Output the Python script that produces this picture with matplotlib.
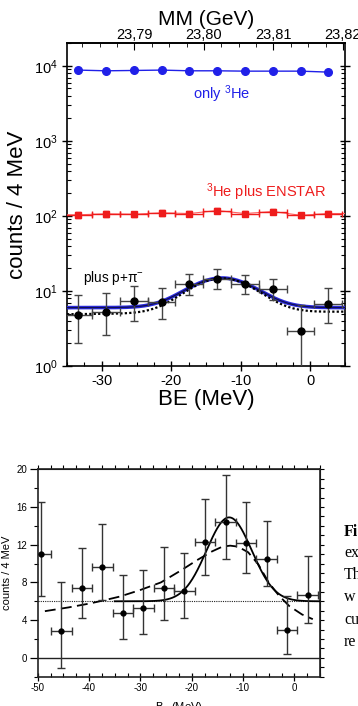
import numpy as np
import matplotlib
matplotlib.use("Agg")
import matplotlib.pyplot as plt
from matplotlib.ticker import MultipleLocator, FixedLocator, FuncFormatter, LogLocator, NullFormatter

plt.rcParams['font.family'] = ['Liberation Sans', 'DejaVu Sans']
plt.rcParams['mathtext.fontset'] = 'custom'
plt.rcParams['mathtext.rm'] = 'Liberation Sans'
plt.rcParams['mathtext.it'] = 'Liberation Sans:italic'
plt.rcParams['axes.unicode_minus'] = False

# ---------------- data ----------------
be_bins = [-49.4, -45.4, -41.4, -37.4, -33.4, -29.4, -25.4, -21.4, -17.4, -13.4, -9.4, -5.4, -1.4, 2.6]
counts = [11.0, 2.9, 7.4, 9.6, 4.8, 5.3, 7.4, 7.1, 12.3, 14.4, 12.2, 10.5, 2.95, 6.7]
count_hi = [16.5, 8.0, 11.6, 14.2, 8.8, 9.3, 11.8, 11.1, 16.9, 19.4, 16.5, 14.5, 6.6, 10.8]
count_lo = [6.6, -1.1, 4.2, 6.1, 2.05, 2.55, 4.0, 4.2, 8.8, 10.5, 9.0, 7.65, 0.42, 3.7]
bin_half = 2.0

he3_only = [8790, 8600, 8690, 8790, 8600, 8600, 8510, 8510, 8510, 8260]
he3_enstar = [103.5, 106.7, 105.4, 110.0, 107.7, 118.0, 107.7, 114.5, 102.0, 107.7]
he3_enstar_err = [9, 9, 9, 9, 9, 9, 9, 9, 9, 9]

# fit parameters (Gaussian + background)
g_center = -12.7
g_sigma = 4.4
g_amp = 8.9
g_bkg = 6.0
dot_amp = 9.6
dot_bkg_left = 4.9
dot_bkg_right = 5.3

# dashed model curve in lower panel
dash_x = [-48.6, -44, -40, -37.5, -34, -30, -26, -22, -19, -16, -14, -12.5, -11, -9, -7, -5, -3, -1, 1.5, 3.6]
dash_y = [4.95, 5.35, 5.75, 6.05, 6.5, 7.2, 8.0, 9.3, 10.35, 11.3, 11.8, 11.9, 11.8, 11.2, 9.9, 8.0, 6.6, 5.5, 4.6, 4.1]

top_xticks = [-30, -20, -10, 0]
mm_ticks = [23.79, 23.80, 23.81, 23.82]
low_xticks = [-50, -40, -30, -20, -10, 0]
low_yticks = [0, 4, 8, 12, 16, 20]

# ---------------- figure ----------------
W, H = 358, 706
fig = plt.figure(figsize=(W / 100, H / 100), dpi=100)

def frac(l, t, r, b):
    return [l / W, 1 - b / H, (r - l) / W, (b - t) / H]

# ===== top panel =====
ax = fig.add_axes(frac(67, 43.3, 345, 366))
ax.set_yscale('log')
ax.set_xlim(-35, 5)
ax.set_ylim(1, 2e4)

xb = np.array(be_bins[4:])
c = np.array(counts[4:])
hi = np.array(count_hi[4:])
lo = np.array(count_lo[4:])
lo_plot = np.where(lo > 0, lo, 0.5)

# curves
xx = np.linspace(-35, 5, 400)
gauss = np.exp(-(xx - g_center) ** 2 / (2 * g_sigma ** 2))
ax.plot(xx, g_bkg + g_amp * gauss, color='#2a2ae0', lw=2.6, zorder=3)
ax.plot(xx, g_bkg + g_amp * gauss, color='#101050', lw=0.9, zorder=3.1)
bk = dot_bkg_left + (dot_bkg_right - dot_bkg_left) * (xx - xx[0]) / (xx[-1] - xx[0])
ax.plot(xx, bk + dot_amp * gauss, color='black', lw=1.6, ls=(0, (1, 1)), zorder=3.2)

# blue: only 3He
ax.plot(xb, he3_only, color='#2020e8', lw=1.0, marker='o', ms=5.5, zorder=4)

# red: 3He + ENSTAR
ax.plot([-35] + list(xb) + [5], [he3_enstar[0]] + he3_enstar + [he3_enstar[-1]],
        color='#ff6060', lw=0.8, zorder=3)
ax.errorbar(xb, he3_enstar, yerr=he3_enstar_err, xerr=bin_half, fmt='s', color='#ee1c1c',
            ms=5, elinewidth=1.0, capsize=2.5, capthick=1.0, zorder=4)

# black: plus p + pi-
ax.errorbar(xb, c, yerr=[c - lo_plot, hi - c], xerr=bin_half, fmt='o', color='black',
            ecolor='#444444', ms=5, elinewidth=1.0, capsize=3, capthick=1.0, zorder=5)

ax.text(0.555, 0.842, 'only $^{3}$He', color='#2020e8', fontsize=10.5, ha='center', va='center',
        transform=ax.transAxes)
ax.text(0.716, 0.538, '$^{3}$He plus ENSTAR', color='#ee1c1c', fontsize=10.5, ha='center', va='center',
        transform=ax.transAxes)
ax.text(0.058, 0.272, 'plus p+π$^{-}$', color='black', fontsize=9.8, ha='left', va='center',
        transform=ax.transAxes)

ax.xaxis.set_major_locator(FixedLocator(top_xticks))
ax.xaxis.set_minor_locator(MultipleLocator(2.5))
ax.yaxis.set_major_locator(LogLocator(base=10, numticks=10))
ax.yaxis.set_minor_locator(LogLocator(base=10, subs=np.arange(2, 10), numticks=20))
ax.yaxis.set_minor_formatter(NullFormatter())
ax.tick_params(which='major', direction='inout', length=7, width=1.0, labelsize=10.5, right=True, top=False)
ax.tick_params(which='minor', direction='in', length=3, width=0.8, right=True, top=False)
ax.tick_params(axis='x', pad=2)
for s in ax.spines.values():
    s.set_linewidth(1.2)
ax.set_xlabel('BE (MeV)', fontsize=16, labelpad=1)
ax.set_ylabel('counts / 4 MeV', fontsize=16, labelpad=4)

def be2mm(b):
    return 23.80 + (np.asarray(b) + 15.3) / 1000.0

def mm2be(m):
    return (np.asarray(m) - 23.80) * 1000.0 - 15.3

sec = ax.secondary_xaxis('top', functions=(be2mm, mm2be))
sec.xaxis.set_major_locator(FixedLocator(mm_ticks))
sec.xaxis.set_minor_locator(MultipleLocator(0.0025))
sec.xaxis.set_major_formatter(FuncFormatter(lambda v, p: f"{v:.2f}".replace('.', ',')))
sec.tick_params(which='major', direction='in', length=5, labelsize=10.5, pad=1)
sec.tick_params(which='minor', direction='in', length=3)
sec.spines['top'].set_linewidth(1.2)
sec.set_xlabel('MM (GeV)', fontsize=15, labelpad=2)

# ===== bottom panel =====
bx = fig.add_axes(frac(37.7, 469.3, 320, 676.7))
bx.set_xlim(-50, 5)
bx.set_ylim(-2, 20)

cb = np.array(counts)
hb = np.array(count_hi)
lb = np.array(count_lo)

bx.axhline(0, color='#222222', lw=1.0, zorder=2)
bx.axhline(g_bkg, color='#222222', lw=0.8, ls=(0, (1, 1)), zorder=2)
xs = np.linspace(-35, 5, 400)
bx.plot(xs, g_bkg + g_amp * np.exp(-(xs - g_center) ** 2 / (2 * g_sigma ** 2)),
        color='black', lw=1.3, zorder=3)
bx.plot(dash_x, dash_y, color='black', lw=1.3, ls=(0, (6, 3)), zorder=3)
bx.errorbar(be_bins, cb, yerr=[cb - lb, hb - cb], xerr=bin_half, fmt='o', color='black',
            ecolor='#333333', ms=3.5, elinewidth=1.0, capsize=3, capthick=1.0, zorder=4)

bx.xaxis.set_major_locator(FixedLocator(low_xticks))
bx.xaxis.set_minor_locator(MultipleLocator(2.5))
bx.yaxis.set_major_locator(FixedLocator(low_yticks))
bx.yaxis.set_minor_locator(MultipleLocator(2))
bx.tick_params(which='major', direction='inout', length=6, width=0.9, labelsize=7, pad=1.5)
bx.tick_params(which='minor', direction='in', length=3, width=0.8)
bx.tick_params(axis='y', which='both', direction='out')
for s in bx.spines.values():
    s.set_linewidth(1.2)
    s.set_color('#222222')
bx.set_ylabel('counts / 4 MeV', fontsize=8, labelpad=3)

btop = bx.secondary_xaxis('top')
btop.xaxis.set_major_locator(MultipleLocator(2.5))
btop.tick_params(direction='out', length=3, labeltop=False)
bright = bx.secondary_yaxis('right')
bright.yaxis.set_major_locator(MultipleLocator(1))
bright.tick_params(direction='out', length=3, labelright=False)

fig.text(179 / W, 1 - 700 / H, 'B$_{\\Lambda}$ (MeV)', fontsize=8, ha='center', va='top')

# cropped caption on the right
cap_lines = ['Fi', 'ex', 'Th', 'w', 'cu', 're']
cap_y = [532, 553, 575, 597, 620, 642]
for i, (t, y) in enumerate(zip(cap_lines, cap_y)):
    fig.text(344 / W, 1 - y / H, t, fontsize=11.5, ha='left', va='center',
             family=['Liberation Serif', 'DejaVu Serif'], weight='bold' if i == 0 else 'normal')

fig.savefig('out.png', dpi=100)
